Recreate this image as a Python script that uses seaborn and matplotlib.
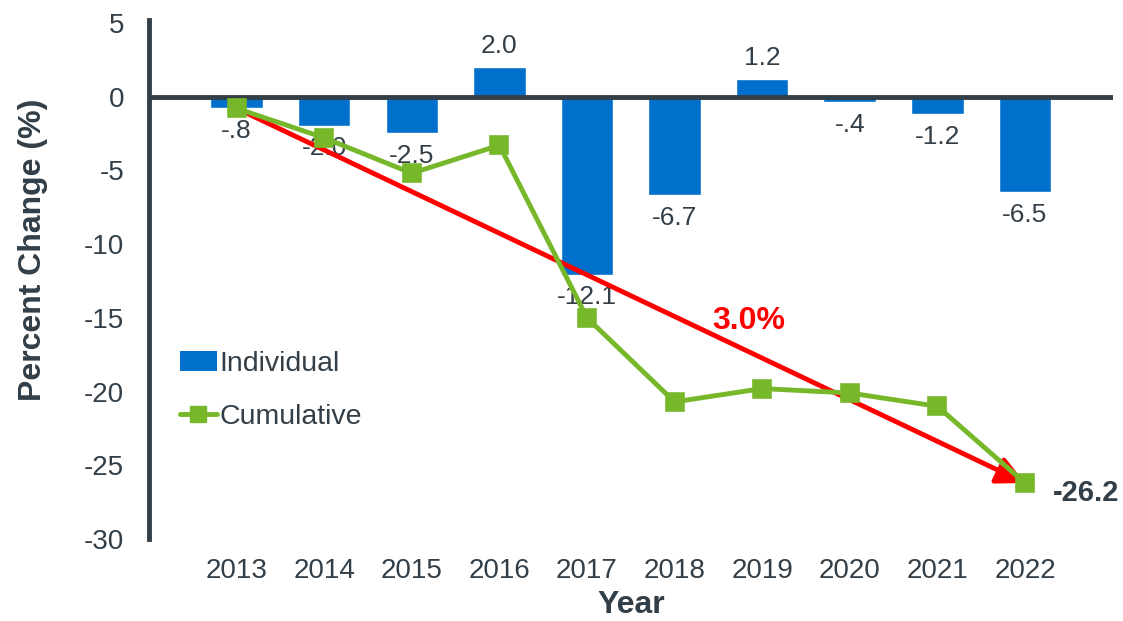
import pandas as pd
import matplotlib.pyplot as plt
import seaborn as sns
from matplotlib.patches import Patch
from matplotlib.lines import Line2D

years = ["2013", "2014", "2015", "2016", "2017", "2018", "2019", "2020", "2021", "2022"]
individual = [-0.8, -2.0, -2.5, 2.0, -12.1, -6.7, 1.2, -0.4, -1.2, -6.5]
cumulative = [-0.8, -2.8, -5.2, -3.3, -15.0, -20.7, -19.8, -20.1, -21.0, -26.2]
trend_label = "3.0%"

blue = "#0070CC"
green = "#76B82A"
dark = "#333F48"

df = pd.DataFrame({"Year": years, "Individual": individual, "Cumulative": cumulative})

sns.set_style("white")
plt.rcParams["font.family"] = ["Liberation Sans", "DejaVu Sans"]
plt.rcParams["axes.unicode_minus"] = False

fig = plt.figure(figsize=(11.23, 6.21), dpi=100)
ax = fig.add_axes([0.1327, 0.132, 0.858, 0.836])

sns.barplot(data=df, x="Year", y="Individual", color=blue, width=0.6,
            saturation=1, ax=ax, zorder=2)

# bar labels
for i, v in enumerate(individual):
    txt = f"{v:.1f}".replace("0.", ".") if abs(v) < 1 else f"{v:.1f}"
    if v < 0:
        ax.text(i, v - 0.7, txt, ha="center", va="top", fontsize=19, color=dark, zorder=3)
    else:
        ax.text(i, v + 0.6, txt, ha="center", va="bottom", fontsize=19, color=dark, zorder=3)

ax.axhline(0, color=dark, lw=3.5, zorder=4)

# trend arrow
ax.annotate("", xy=(len(years) - 1, cumulative[-1]), xytext=(0, cumulative[0]),
            arrowprops=dict(arrowstyle="-|>", color="red", lw=3.5, mutation_scale=42,
                            shrinkA=0, shrinkB=0), zorder=5)
ax.text(5.85, -15.2, trend_label, color="red", fontsize=23, fontweight="bold",
        ha="center", va="center", zorder=6)

sns.pointplot(data=df, x="Year", y="Cumulative", color=green, markers="s",
              markersize=11.5, linewidth=3.5, ax=ax, zorder=7)

ax.text(len(years) - 1 + 0.32, cumulative[-1] - 0.7, f"{cumulative[-1]:.1f}",
        color=dark, fontsize=21, fontweight="bold", ha="left", va="center")

ax.set_xlim(-1, len(years))
ax.set_ylim(-30, 5.2)
ax.set_yticks(range(-30, 6, 5))
ax.tick_params(axis="both", length=0, labelsize=20, colors=dark)
ax.tick_params(axis="x", pad=14)
ax.tick_params(axis="y", pad=18)

for s in ["top", "right", "bottom"]:
    ax.spines[s].set_visible(False)
ax.spines["left"].set_color(dark)
ax.spines["left"].set_linewidth(3.5)

ax.set_xlabel("Year", fontsize=23, fontweight="bold", color=dark, labelpad=4)
ax.set_ylabel("Percent Change (%)", fontsize=23, fontweight="bold", color=dark)
ax.yaxis.set_label_coords(-0.105, 0.557)

handles = [Patch(facecolor=blue, edgecolor="none"),
           Line2D([0], [0], color=green, lw=3.5, marker="s", markersize=11.5)]
ax.legend(handles, ["Individual", "Cumulative"], loc="center left",
          bbox_to_anchor=(0.032, 0.287), frameon=False, fontsize=20.5,
          labelcolor=dark, handlelength=1.3, handletextpad=0.1, labelspacing=0.95,
          borderaxespad=0, borderpad=0)

fig.savefig("out.png", dpi=100)
